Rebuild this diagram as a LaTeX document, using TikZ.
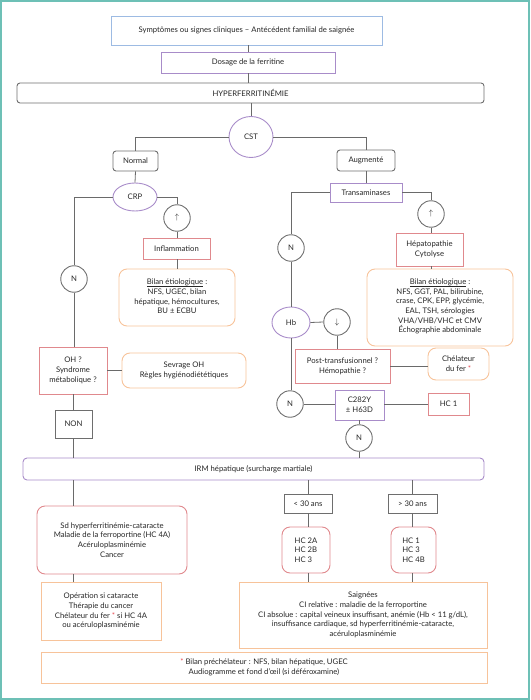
\documentclass[tikz,border=0pt]{standalone}
\usepackage{fontspec}
\setmainfont{Lato}
\usetikzlibrary{shapes.geometric}
\definecolor{cblue}{HTML}{9DBBE3}
\definecolor{cpurple}{HTML}{A88CC9}
\definecolor{cred}{HTML}{E0898D}
\definecolor{corange}{HTML}{F7C39A}
\definecolor{cgray}{HTML}{6E6E6E}
\definecolor{cteal}{HTML}{6DC0B6}
\definecolor{cline}{HTML}{6A6A6A}
\definecolor{cast}{HTML}{E8464E}
\newcommand{\ulbil}{\underline{\smash{Bilan étiologique}}}
\tikzset{
  base/.style={draw, line width=0.9pt, inner sep=1pt, align=center, font=\fontsize{7.7}{9.7}\selectfont, text=black!85},
  sz/.style 2 args={minimum width=#1pt, minimum height=#2pt},
  bluebox/.style={base, draw=cblue},
  purplebox/.style={base, draw=cpurple},
  purpleround/.style={base, draw=cpurple, rounded corners=4pt},
  redbox/.style={base, draw=cred},
  redround/.style={base, draw=cred, rounded corners=8pt},
  orangebox/.style={base, draw=corange},
  orangeround/.style={base, draw=corange, rounded corners=8pt},
  graybox/.style={base, draw=cgray},
  grayround/.style={base, draw=cgray, rounded corners=3pt},
  purpleell/.style={base, draw=cpurple, ellipse, inner sep=0pt},
  circ/.style={base, draw=cgray, circle, inner sep=0pt, minimum size=26.5pt},
  conn/.style={draw=cline, line width=0.8pt},
}
\begin{document}
\begin{tikzpicture}[x=1pt, y=-1pt]
\useasboundingbox (0,0) rectangle (530,700);
\draw[cteal, line width=1.6pt] (1,1) rectangle (528.7,699);
% top
\node[bluebox, sz={271}{29}] (sym) at (246.5,30.5) {Symptômes ou signes cliniques -- Antécédent familial de saignée};
\node[purplebox, sz={174}{21}] (dos) at (248,62.5) {Dosage de la ferritine};
\node[grayround, sz={467}{20}] (hyp) at (250.5,93) {HYPERFERRITINÉMIE};
\node[purpleell, sz={44}{41}] (cst) at (251,137) {CST};
% left branch
\node[grayround, sz={45}{20}] (normal) at (135.5,161) {Normal};
\node[purpleell, sz={44}{28}] (crp) at (135,197) {CRP};
\node[circ] (n1) at (74,279) {N};
\node[circ] (up1) at (177,218) {$\uparrow$};
\node[redbox, sz={67}{21}] (infl) at (176.5,248.5) {Inflammation};
\node[orangeround, sz={116}{57}] (bil1) at (177,297.5) {\ulbil\ :\\NFS, UGEC, bilan\\hépatique, hémocultures,\\BU ± ECBU};
\node[redbox, sz={68}{47}] (oh) at (73,370.5) {OH ?\\Syndrome\\métabolique ?};
\node[orangeround, sz={124}{35}] (sev) at (184,370.5) {Sevrage OH\\Règles hygiénodiététiques};
\node[graybox, sz={37}{28}] (non) at (73.5,424) {NON};
\node[purpleround, sz={461}{22}] (irm) at (253.5,469) {IRM hépatique (surcharge martiale)};
% right branch
\node[grayround, sz={58}{21}] (aug) at (366,160.5) {Augmenté};
\node[purplebox, sz={72}{19}] (trans) at (366,192.5) {Transaminases};
\node[circ] (n2) at (291,248) {N};
\node[circ] (up2) at (431,214) {$\uparrow$};
\node[redbox, sz={67}{33}] (hep) at (429.5,249.5) {Hépatopathie\\Cytolyse};
\node[orangeround, sz={146}{77}] (bil2) at (440,307.5) {\ulbil\ :\\NFS, GGT, PAL, bilirubine,\\crase, CPK, EPP, glycémie,\\EAL, TSH, sérologies\\VHA/VHB/VHC et CMV\\Échographie abdominale};
\node[purpleell, sz={38}{31}] (hb) at (291,322.5) {Hb};
\node[circ] (down) at (337,322) {$\downarrow$};
\node[redbox, sz={95}{34}] (post) at (342.5,366) {Post-transfusionnel ?\\Hémopathie ?};
\node[orangeround, sz={61}{32}] (chel) at (458.5,364) {Chélateur\\du fer {\color{cast}*}};
\node[circ] (n3) at (290,404) {N};
\node[purplebox, sz={49}{30}] (c282) at (359.5,405) {C282Y\\± H63D};
\node[redbox, sz={41}{22}] (hcone) at (448.5,404) {HC 1};
\node[circ] (n4) at (359,438) {N};
% bottom
\node[redround, sz={150}{68}] (sd) at (112,540) {Sd hyperferritinémie-cataracte\\Maladie de la ferroportine (HC 4A)\\Acéruloplasminémie\\Cancer};
\node[orangebox, sz={120}{58}] (op) at (101,611) {Opération si cataracte\\Thérapie du cancer\\Chélateur du fer {\color{cast}*} si HC 4A\\ou acéruloplasminémie};
\node[graybox, sz={48}{19}] (lt) at (308,503.5) {< 30 ans};
\node[graybox, sz={49}{19}] (gt) at (412.5,503.5) {> 30 ans};
\node[redround, sz={48}{46}, align=left] (hc2) at (306,550) {HC 2A\\HC 2B\\HC 3};
\node[redround, sz={45}{46}, align=left] (hc1b) at (413.5,550) {HC 1\\HC 3\\HC 4B};
\node[orangebox, sz={248}{66}] (sai) at (363,615) {Saignées\\CI relative : maladie de la ferroportine\\CI absolue : capital veineux insuffisant, anémie (Hb < 11 g/dL),\\insuffisance cardiaque, sd hyperferritinémie-cataracte,\\acéruloplasminémie};
\node[orangebox, sz={446}{31}] (pre) at (264,667.5) {{\color{cast}*} Bilan préchélateur : NFS, bilan hépatique, UGEC\\Audiogramme et fond d'œil (si déféroxamine)};
% connectors
\draw[conn] (sym.south -| dos.north) -- (dos.north);
\draw[conn] (dos.south) -- (dos.south |- hyp.north);
\draw[conn] (hyp.south -| cst.north) -- (cst.north);
\draw[conn] (cst.west) -| (normal.north);
\draw[conn] (normal.south) -- (crp.north);
\draw[conn] (crp.west) -| (n1.north);
\draw[conn] (crp.east) -| (up1.north);
\draw[conn] (up1.south) -- (up1.south |- infl.north);
\draw[conn] (infl.south -| up1.south) -- (bil1.north -| up1.south);
\draw[conn] (n1.south) -- (n1.south |- oh.north);
\draw[conn] (oh.east) -- (sev.west);
\draw[conn] (oh.south) -- (non.north -| oh.south);
\draw[conn] (non.south -| oh.south) -- (irm.north -| oh.south);
\draw[conn] (cst.east) -| (aug.north);
\draw[conn] (aug.south) -- (trans.north);
\draw[conn] (trans.west) -| (n2.north);
\draw[conn] (trans.east) -| (up2.north);
\draw[conn] (up2.south) -- (up2.south |- hep.north);
\draw[conn] (hep.south -| up2.south) -- (bil2.north -| up2.south);
\draw[conn] (n2.south) -- (hb.north -| n2.south);
\draw[conn] (hb.east) -- (down.west);
\draw[conn] (down.south) -- (down.south |- post.north);
\draw[conn] (post.east) -- (post.east -| chel.west);
\draw[conn] (hb.south) -- (n3.north -| hb.south);
\draw[conn] (n3.east) -- (c282.west |- n3.east);
\draw[conn] (c282.east |- hcone.west) -- (hcone.west);
\draw[conn] (c282.south -| n4.north) -- (n4.north);
\draw[conn] (n4.south) -- (n4.south |- irm.north);
\draw[conn] (irm.south -| non.south) -- (sd.north -| non.south);
\draw[conn] (sd.south -| non.south) -- (op.north -| non.south);
\draw[conn] (irm.south -| lt.north) -- (lt.north);
\draw[conn] (lt.south) -- (lt.south |- hc2.north);
\draw[conn] (hc2.south -| lt.south) -- (sai.north -| lt.south);
\draw[conn] (irm.south -| gt.north) -- (gt.north);
\draw[conn] (gt.south) -- (gt.south |- hc1b.north);
\draw[conn] (hc1b.south -| gt.south) -- (sai.north -| gt.south);
\end{tikzpicture}
\end{document}
